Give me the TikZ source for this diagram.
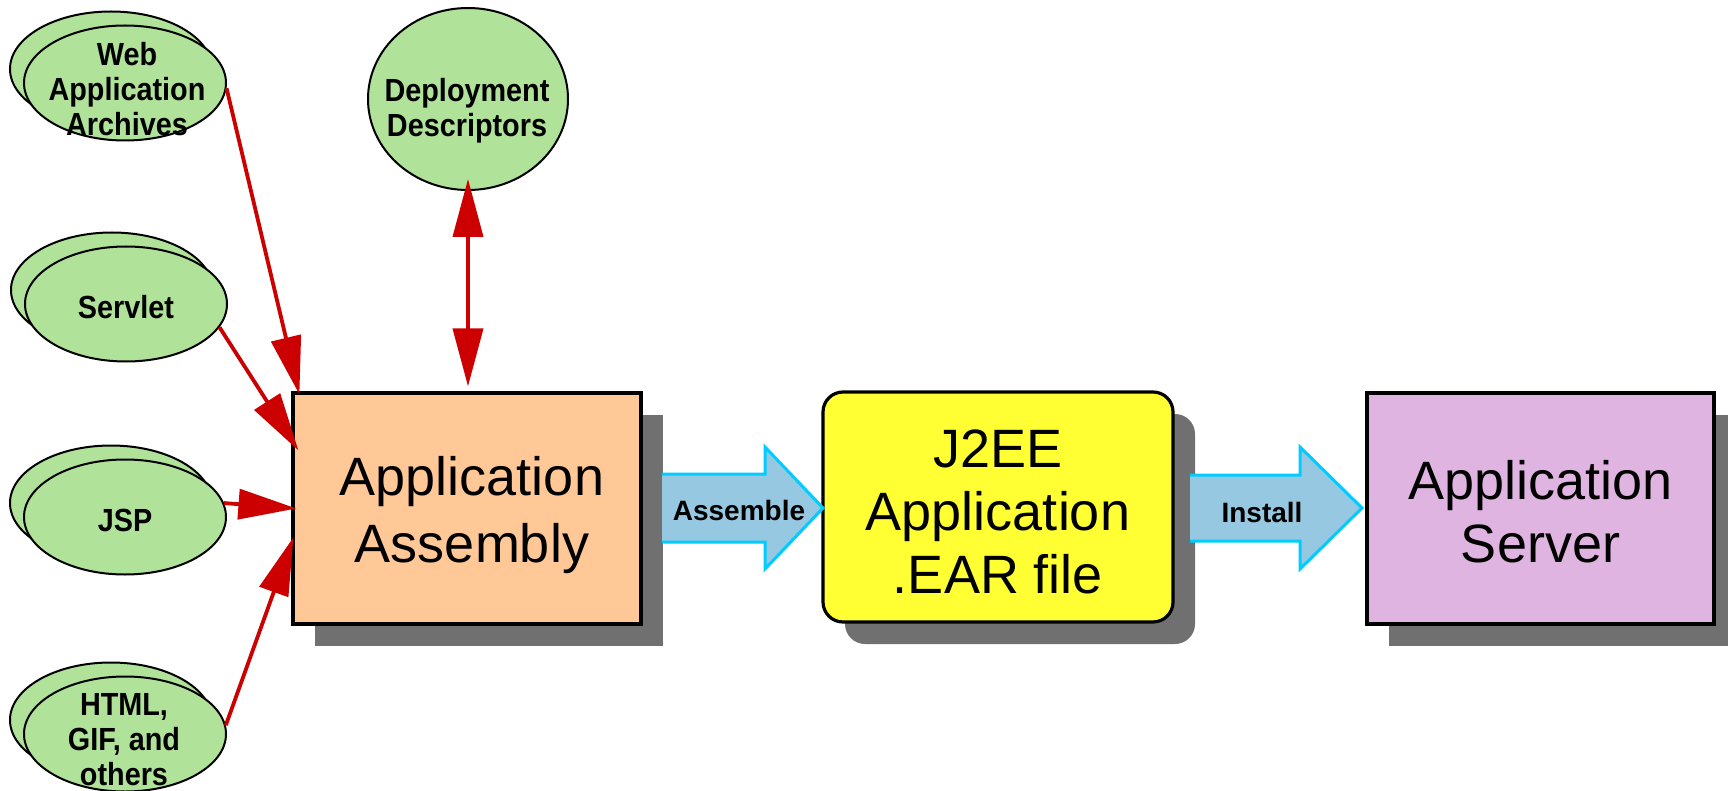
\documentclass[tikz,border=0pt]{standalone}
\usepackage{fontspec}
\setmainfont{Liberation Sans}
\newfontfamily\ellfont{Liberation Sans}[FakeStretch=0.9]
\usetikzlibrary{shapes.geometric,arrows.meta,calc,shadows}
\definecolor{ellgreen}{RGB}{176,226,154}
\definecolor{boxorange}{RGB}{255,200,150}
\definecolor{boxyellow}{RGB}{255,255,51}
\definecolor{boxpurple}{RGB}{224,180,224}
\definecolor{shadowgray}{RGB}{112,112,112}
\definecolor{arrfill}{RGB}{150,200,225}
\definecolor{arrborder}{RGB}{0,204,255}
\definecolor{arrred}{RGB}{204,0,0}
\begin{document}
\begin{tikzpicture}[x=0.5pt,y=-0.5pt,
  >={Triangle[length=29pt,width=15pt]},
  ell/.style={ellipse, draw=black, line width=1pt, fill=ellgreen,
    minimum width=101pt, minimum height=57.5pt, inner sep=0pt},
  etxt/.style={font=\ellfont\fontsize{16}{17.5}\selectfont\bfseries, align=center, inner sep=0pt},
  box/.style={rectangle, draw=black, line width=1.6pt, inner sep=0pt,
    minimum width=174pt, minimum height=115.5pt,
    drop shadow={shadow xshift=11pt, shadow yshift=-11pt, fill=shadowgray, opacity=1}},
  btxt/.style={align=center, inner sep=0pt, font=\fontsize{27}{31.5}\selectfont},
  redarrow/.style={draw=arrred, line width=1.9pt},
  blockarrow/.style={fill=arrfill, draw=arrborder, line width=1.5pt, line join=miter},
  atxt/.style={font=\fontsize{14}{17}\selectfont\bfseries, inner sep=0pt}]
\useasboundingbox (0,0) rectangle (1728,791);

% ellipses (back, front)
\node[ell] (webb) at (111,69) {};
\node[ell] (web) at (125,83) {};
\node[ell] (srvb) at (112,290) {};
\node[ell] (srv) at (126,304) {};
\node[ell] (jspb) at (111,503) {};
\node[ell] (jsp) at (125,517) {};
\node[ell] (htmlb) at (111,720) {};
\node[ell] (html) at (125,734) {};
\node[ell, minimum width=100pt, minimum height=91pt] (dd) at (468,99) {};

% boxes
\node[box, fill=boxorange] (asm) at (467,508.5) {};
\node[box, fill=boxyellow, rounded corners=10pt, minimum width=175pt, minimum height=115pt] (ear) at (998,507) {};
\node[box, fill=boxpurple, minimum width=173.5pt] (srvr) at (1540.5,508.5) {};
\node[btxt, font=\fontsize{27}{33.5}\selectfont] (asmt) at (472,515) {Application\\Assembly};
\node[btxt] (eart) at (998,511.5) {J2EE\\Application\\.EAR file};
\node[btxt] (srvrt) at (1540.5,512) {Application\\Server};

% block arrows
\path[fill=arrfill] (662,474) -- (765,474) -- (765,447) -- (823,508) -- (765,569) -- (765,542) -- (662,542) -- cycle;
\draw[blockarrow, fill=none] (662,474) -- (765,474) -- (765,447) -- (823,508) -- (765,569) -- (765,542) -- (662,542);
\path[fill=arrfill] (1190,475) -- (1300,475) -- (1300,447) -- (1362,508) -- (1300,569) -- (1300,541) -- (1190,541) -- cycle;
\draw[blockarrow, fill=none] (1190,475) -- (1300,475) -- (1300,447) -- (1362,508) -- (1300,569) -- (1300,541) -- (1190,541);
\node[atxt] (assemble) at (739,510) {Assemble};
\node[atxt] (install) at (1262,512) {Install};

% red connectors
\draw[redarrow, ->] (web.-3) -- ($(asm.north west)+(8,3)$);
\draw[redarrow, ->] (srv.-14) -- ($(asm.north west)+(7,59)$);
\draw[redarrow, ->] (jsp.8) -- ($(asm.west)+(5,0)$);
\draw[redarrow, ->] (html.5) -- ($(asm.north west)+(2,146)$);
\draw[redarrow, <->] ($(dd.south)+(0,-12)$) -- ($(asm.north)+(1,-5)$);

% ellipse texts
\node[etxt] (webt) at (127,89) {Web\\Application\\Archives};
\node[etxt] (srvt) at (126,307) {Servlet};
\node[etxt] (jspt) at (125,520) {JSP};
\node[etxt] (htmlt) at (124,740) {HTML,\\GIF, and\\others};
\node[etxt] (ddt) at (467,111) {Deployment\\Descriptors};
\end{tikzpicture}
\end{document}
